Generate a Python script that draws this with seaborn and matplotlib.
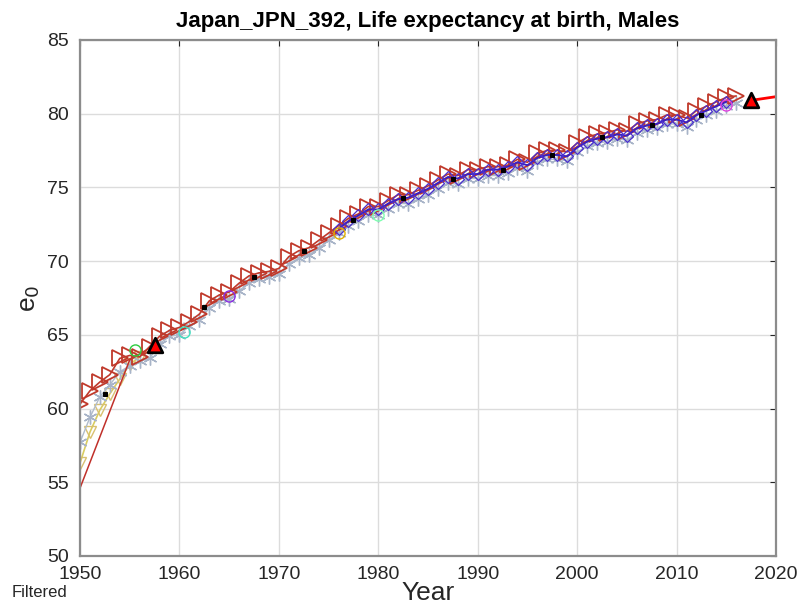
import numpy as np
import pandas as pd
import matplotlib
matplotlib.use("Agg")
import matplotlib.pyplot as plt
import seaborn as sns

# ---------------- data ----------------
years = list(range(1950, 2017))

tri_vals = [60.3, 61.2, 61.8, 62.3, 63.4, 63.6, 63.5, 64.2, 64.9, 65.3,
            65.5, 65.9, 66.4, 67.3, 67.7, 67.9, 68.5, 69.0, 69.2, 69.3,
            69.5, 70.3, 70.7, 70.9, 71.4, 71.9, 72.4, 72.9, 73.2, 73.7,
            73.7, 74.1, 74.5, 74.5, 74.8, 75.1, 75.5, 75.9, 75.8, 76.2,
            76.2, 76.4, 76.4, 76.5, 76.9, 76.7, 77.3, 77.5, 77.5, 77.4,
            78.0, 78.4, 78.6, 78.7, 78.9, 78.8, 79.3, 79.5, 79.6, 79.9,
            79.9, 79.7, 80.2, 80.5, 80.8, 81.1, 81.2]

star_vals = [57.7, 59.4, 60.8, 61.6, 62.5, 62.9, 63.2, 63.4, 64.4, 64.9,
             65.0, 65.6, 66.0, 66.8, 67.3, 67.4, 68.0, 68.5, 68.8, 68.9,
             69.1, 69.8, 70.2, 70.4, 70.9, 71.4, 71.9, 72.4, 72.7, 73.1,
             73.1, 73.5, 73.9, 73.9, 74.2, 74.5, 74.9, 75.3, 75.2, 75.6,
             75.6, 75.8, 75.8, 76.0, 76.3, 76.1, 76.7, 76.9, 76.9, 76.8,
             77.4, 77.8, 78.0, 78.1, 78.3, 78.2, 78.7, 78.9, 79.0, 79.3,
             79.3, 79.1, 79.6, 79.9, 80.2, 80.5, 80.7]

blue_years = list(range(1976, 2016))
blue_vals = [72.2, 72.7, 73.1, 73.5, 73.5, 73.9, 74.2, 74.3, 74.6, 74.9,
             75.3, 75.7, 75.6, 75.9, 75.9, 76.2, 76.2, 76.4, 76.7, 76.5,
             77.0, 77.2, 77.2, 77.1, 77.7, 78.1, 78.3, 78.4, 78.6, 78.5,
             79.0, 79.2, 79.3, 79.6, 79.6, 79.4, 79.9, 80.2, 80.5, 80.8]

yellow_years = [1950, 1951, 1952, 1953, 1954, 1955, 1956]
yellow_vals = [56.3, 58.4, 59.9, 61.0, 62.0, 63.0, 63.5]

black_years = [1952.5, 1957.5, 1962.5, 1967.5, 1972.5, 1977.5, 1982.5,
               1987.5, 1992.5, 1997.5, 2002.5, 2007.5, 2012.5]
black_vals = [61.0, 64.3, 66.9, 68.9, 70.7, 72.8, 74.3, 75.6, 76.2, 77.2,
              78.4, 79.2, 79.9]

filt_years = [1950, 1955, 1957.5]
filt_vals = [54.6, 63.3, 64.3]

proj_years = [2017.5, 2022]
proj_vals = [80.9, 81.35]

point_years = [1957.5, 2017.5]
point_vals = [64.3, 80.9]

other_years = [1955.5, 1960.5, 1965.0, 1976.0, 1980.0, 2015.0]
other_vals = [64.0, 65.2, 67.6, 71.9, 73.1, 80.6]
other_cols = ["#2ecc40", "#40e0c0", "#8a2be2", "#e0b000", "#7fffb0", "#e040e0"]

# ---------------- plot ----------------
sns.set_theme(style="whitegrid")
plt.rcParams['font.family'] = ['Liberation Sans', 'DejaVu Sans']

fig = plt.figure(figsize=(8, 6.14), dpi=100)
ax = fig.add_axes([0.1, 0.0945, 0.87, 0.8405])

df_star = pd.DataFrame({"Year": years, "e0": star_vals})
df_tri = pd.DataFrame({"Year": years, "e0": tri_vals})
df_blue = pd.DataFrame({"Year": blue_years, "e0": blue_vals})
df_yel = pd.DataFrame({"Year": yellow_years, "e0": yellow_vals})
df_blk = pd.DataFrame({"Year": black_years, "e0": black_vals})
df_filt = pd.DataFrame({"Year": filt_years, "e0": filt_vals})
df_proj = pd.DataFrame({"Year": proj_years, "e0": proj_vals})
df_pt = pd.DataFrame({"Year": point_years, "e0": point_vals})

sns.lineplot(data=df_yel, x="Year", y="e0", ax=ax, color="#d8cc60", lw=1.2,
             marker="v", markersize=9, markerfacecolor="none",
             markeredgecolor="#d8c070", markeredgewidth=1.0)
sns.lineplot(data=df_star, x="Year", y="e0", ax=ax, color="#b0bccc", lw=1.0,
             marker=(6, 2, 0), markersize=10, markeredgecolor="#a8b4c8",
             markeredgewidth=1.0)
sns.lineplot(data=df_filt, x="Year", y="e0", ax=ax, color="#c0302a", lw=1.1)
sns.lineplot(data=df_tri, x="Year", y="e0", ax=ax, color="#c0392b", lw=1.2,
             marker=">", markersize=11, markerfacecolor="none",
             markeredgecolor="#c0392b", markeredgewidth=1.3)
sns.lineplot(data=df_blue, x="Year", y="e0", ax=ax, color="#3a1fc0", lw=1.4,
             marker="D", markersize=6, markerfacecolor="none",
             markeredgecolor="#4a2fd0", markeredgewidth=0.9)
sns.lineplot(data=df_blk, x="Year", y="e0", ax=ax, color="#222222", lw=0,
             marker="s", markersize=2.5, markerfacecolor="black",
             markeredgecolor="black")
for yx, yv, c in zip(other_years, other_vals, other_cols):
    ax.plot([yx], [yv], marker="o", markersize=8, markerfacecolor="none",
            markeredgecolor=c, lw=0)
sns.lineplot(data=df_proj, x="Year", y="e0", ax=ax, color="#ff0000", lw=2)
sns.scatterplot(data=df_pt, x="Year", y="e0", ax=ax, marker="^", s=110,
                color="#ff0000", edgecolor="black", linewidth=2, zorder=10)

ax.set_xlim(1950, 2020)
ax.set_ylim(50, 85)
ax.set_xticks(range(1950, 2021, 10))
ax.set_yticks(range(50, 86, 5))
ax.tick_params(axis="both", labelsize=14, colors="#262626", direction="in",
               length=4, width=0.8, top=True, right=True)
ax.tick_params(axis="x", pad=7)
ax.tick_params(axis="y", pad=8)
for lbl in ax.get_xticklabels() + ax.get_yticklabels():
    lbl.set_color("#262626")
ax.grid(True, color="#dcdcdc", lw=1)
for s in ax.spines.values():
    s.set_visible(True)
    s.set_color("#8c8c8c")
    s.set_linewidth(1.6)
ax.set_facecolor("white")

ax.set_xlabel("Year", fontsize=19, color="#262626", labelpad=-1)
ax.set_ylabel("e$_0$", fontsize=19, color="#262626", labelpad=4)
ax.set_title("Japan_JPN_392, Life expectancy at birth, Males",
             fontsize=16, fontweight="bold", color="black", pad=9)
fig.text(0.015, 0.028, "Filtered", fontsize=12, color="#262626")

fig.savefig("out.png", dpi=100, facecolor="white")
